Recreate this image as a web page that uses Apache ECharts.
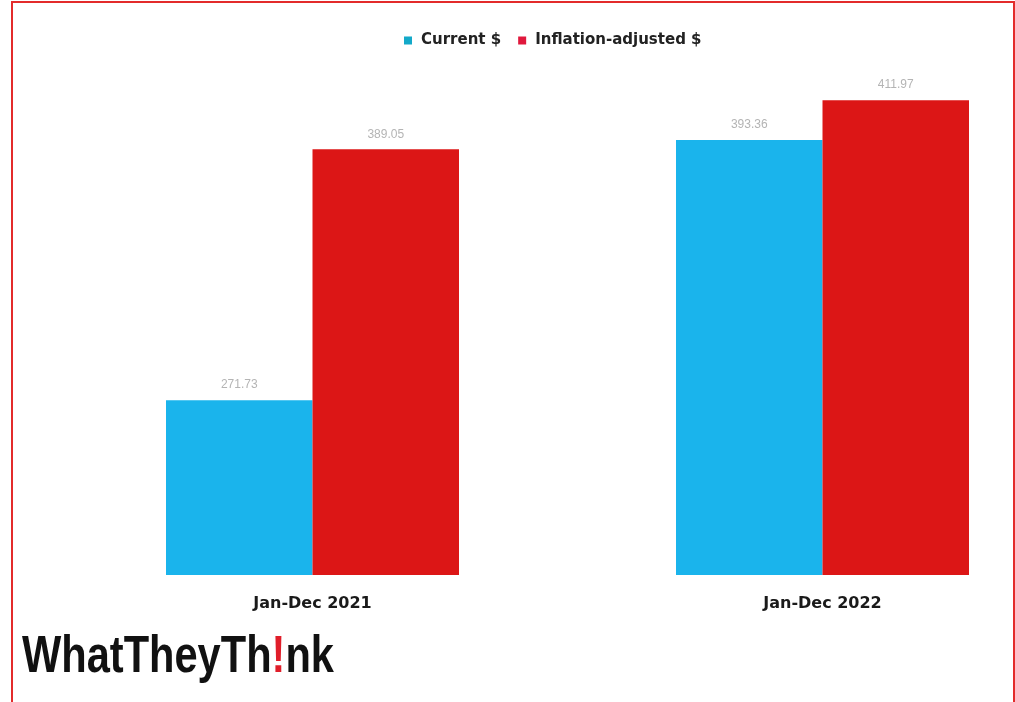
<!DOCTYPE html>
<html>
<head>
<meta charset="utf-8">
<script src="https://cdn.jsdelivr.net/npm/echarts@6/dist/echarts.min.js"></script>
<style>
html,body{margin:0;padding:0;background:#fff;}
#frame{position:absolute;left:11px;top:1px;width:1000px;height:720px;border:2px solid #e32b2b;border-bottom:none;}
#chart{position:absolute;left:0;top:0;width:1015px;height:702px;}
</style>
</head>
<body>
<div id="chart"></div>
<div id="frame"></div>
<script>
const categories = ["Jan-Dec 2021", "Jan-Dec 2022"];
const seriesNames = ["Current $", "Inflation-adjusted $"];
const currentValues = [271.73, 393.36];
const inflationValues = [389.05, 411.97];

const chart = echarts.init(document.getElementById('chart'));
chart.setOption({
  backgroundColor: '#ffffff',
  animation: false,
  legend: {
    left: 399, top: 28,
    itemWidth: 8, itemHeight: 8, itemGap: 17,
    icon: 'rect',
    textStyle: {fontFamily: 'DejaVu Sans', fontWeight: 'bold', fontSize: 15, color: '#222', padding: [0, 0, 0, 4]},
    data: [
      {name: seriesNames[0], itemStyle: {color: '#13a9c9'}},
      {name: seriesNames[1], itemStyle: {color: '#e0183c'}}
    ]
  },
  grid: {left: 57.5, top: 83, width: 1020, bottom: 127, containLabel: false, outerBoundsMode: 'none'},
  xAxis: {
    type: 'category', data: categories,
    axisLine: {show: false}, axisTick: {show: false},
    axisLabel: {margin: 21, fontFamily: 'DejaVu Sans', fontWeight: 'bold', fontSize: 16, color: '#1a1a1a'}
  },
  yAxis: {type: 'value', min: 190, max: 420, show: false, splitLine: {show: false}},
  series: [
    {name: seriesNames[0], type: 'bar', data: currentValues, barWidth: 146.5, barGap: '0%',
     itemStyle: {color: '#1ab4ec'},
     label: {show: true, position: 'top', distance: 9, fontFamily: 'Liberation Sans', fontSize: 12, color: '#b4b4b4', formatter: p => p.value.toFixed(2)}},
    {name: seriesNames[1], type: 'bar', data: inflationValues, barWidth: 146.5, barGap: '0%',
     itemStyle: {color: '#dc1616'},
     label: {show: true, position: 'top', distance: 9, fontFamily: 'Liberation Sans', fontSize: 12, color: '#b4b4b4', formatter: p => p.value.toFixed(2)}}
  ],
  graphic: [{
    type: 'text', left: 22, top: 632, scaleX: 0.8,
    style: {
      text: '{a|WhatTheyTh}{b|!}{a|nk}',
      rich: {
        a: {fontFamily: 'Liberation Sans', fontWeight: 'bold', fontSize: 52, fill: '#111'},
        b: {fontFamily: 'Liberation Sans', fontWeight: 'bold', fontSize: 52, fill: '#e01e2a'}
      }
    }
  }]
});
</script>
</body>
</html>
